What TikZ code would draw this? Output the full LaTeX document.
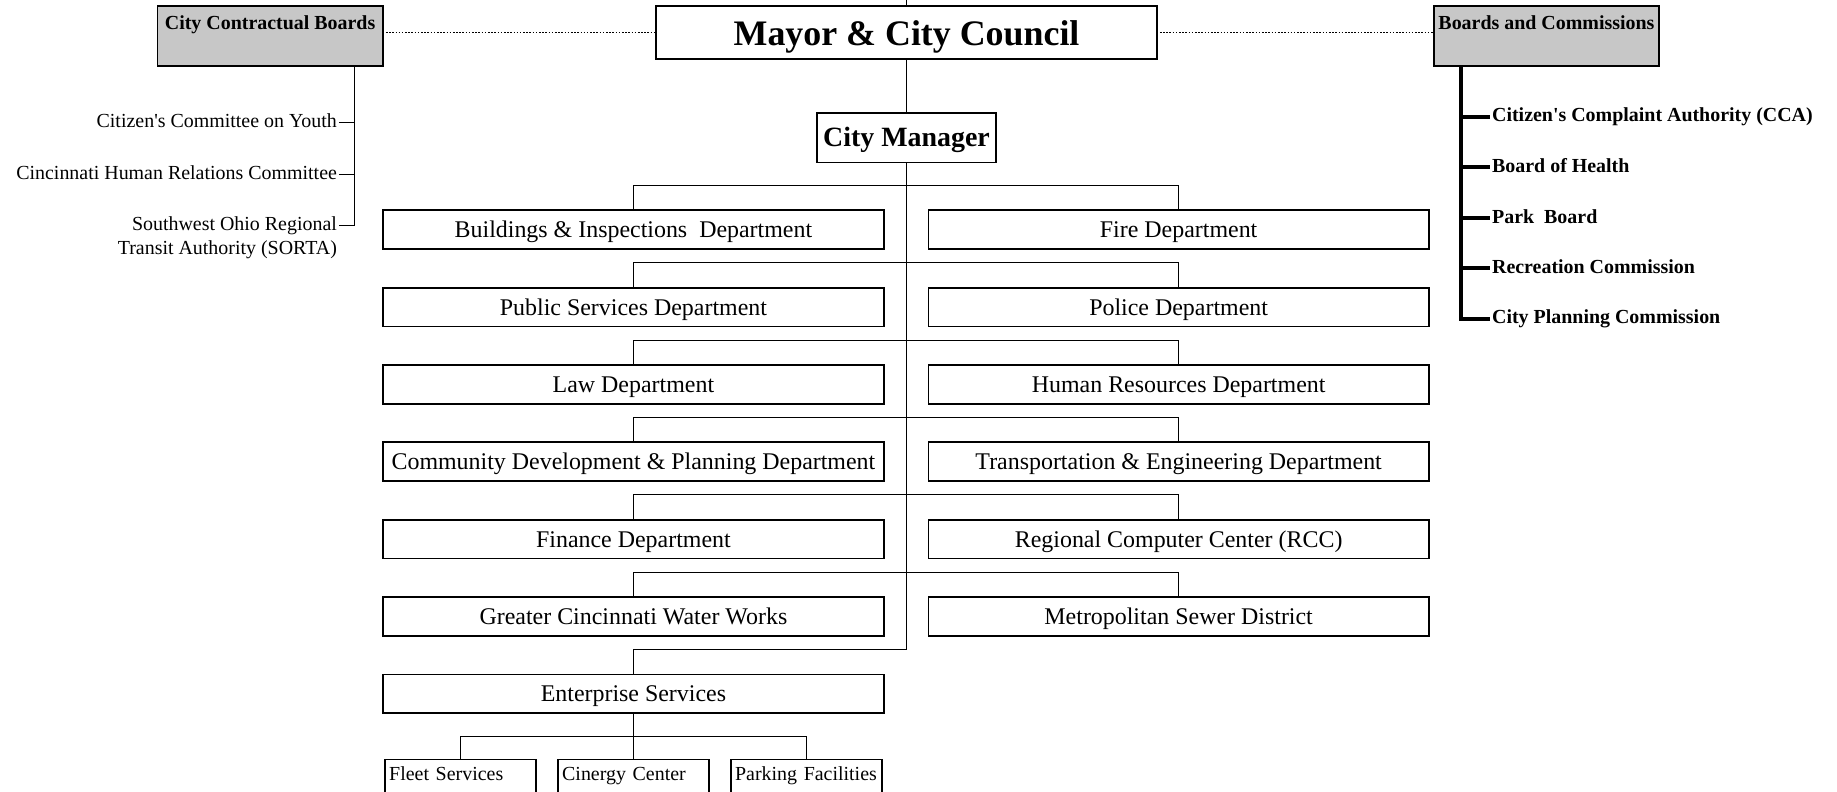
\documentclass[tikz,border=0pt]{standalone}
\usepackage{fontspec}
\setmainfont{Liberation Serif}
\usetikzlibrary{positioning}
\tikzstyle{box}=[draw, line width=0.9pt, inner sep=0, outer sep=0]
\tikzstyle{dept}=[box, minimum width=251pt, minimum height=19.5pt, text height=9.5pt, text depth=1.5pt, font=\fontsize{12}{14}\selectfont]
\tikzstyle{subunit}=[box, anchor=north, text width=71.5pt, align=left, inner xsep=2pt, inner ysep=2.5pt,
                     text height=8pt, text depth=30pt, font=\fontsize{10}{12}\selectfont]
\tikzstyle{board}=[box, fill=black!22, minimum width=113pt, inner xsep=1pt, inner ysep=2.5pt,
                   text height=9.5pt, text depth=15.5pt, font=\bfseries\fontsize{10}{12}\selectfont]
\tikzstyle{member}=[inner sep=1pt, outer sep=0, text height=7.5pt, text depth=2.5pt, font=\fontsize{10}{12}\selectfont]
\tikzstyle{link}=[line width=0.6pt]
\tikzstyle{heavylink}=[line width=2pt]
\tikzstyle{loose}=[line width=0.6pt, dash pattern=on 0.8pt off 0.8pt]

\begin{document}
\begin{tikzpicture}[x=0.5pt, y=-0.5pt]
    \clip (0,0) rectangle (1843,794);
    % top of the chart
    \node[box, minimum width=251pt, minimum height=26.5pt, text height=13.5pt, text depth=0.3pt, font=\bfseries\fontsize{18}{21}\selectfont] (council) at (909.5, 32.5) {Mayor \& City Council};
    \node[box, minimum width=89.5pt, minimum height=25pt, text height=10pt, text depth=1.4pt, font=\bfseries\fontsize{14}{16}\selectfont] (manager) at (909.5, 138) {City Manager};
    \node[board] (contract) at (271, 36) {City Contractual Boards};
    \node[board] (commissions) at (1551.5, 36) {Boards and Commissions};
    \coordinate (top) at (909.5, 0);

    % departments
    \node[dept] (buildings) at (635.5, 230.5) {Buildings \& Inspections~ Department};
    \node[dept] (fire) at (1182.5, 230.5) {Fire Department};
    \node[dept] (publicserv) at (635.5, 308.1) {Public Services Department};
    \node[dept] (police) at (1182.5, 308.1) {Police Department};
    \node[dept] (law) at (635.5, 385.7) {Law Department};
    \node[dept] (hr) at (1182.5, 385.7) {Human Resources Department};
    \node[dept] (planning) at (635.5, 463.3) {Community Development \& Planning Department};
    \node[dept] (transport) at (1182.5, 463.3) {Transportation \& Engineering Department};
    \node[dept] (finance) at (635.5, 540.9) {Finance Department};
    \node[dept] (rcc) at (1182.5, 540.9) {Regional Computer Center (RCC)};
    \node[dept] (water) at (635.5, 618.5) {Greater Cincinnati Water Works};
    \node[dept] (sewer) at (1182.5, 618.5) {Metropolitan Sewer District};
    \node[dept] (enterprise) at (635.5, 696.1) {Enterprise Services};

    \node[subunit] (fleet) at (462, 762) {Fleet Services};
    \node[subunit] (cinergy) at (635.5, 762) {Cinergy Center};
    \node[subunit] (parking) at (809, 762) {Parking Facilities};

    % contractual boards
    \node[member, anchor=east] (youth) at (340, 123) {Citizen\textquotesingle s Committee on Youth};
    \node[member, anchor=east] (human) at (340, 175) {Cincinnati Human Relations Committee};
    \node[member, anchor=east] (sorta) at (340, 226) {Southwest Ohio Regional};
    \node[member, anchor=north east] (sortab) at (sorta.south east) {Transit Authority (SORTA)};
    \coordinate (leftfoot) at (356, 226);

    % boards and commissions
    \node[member, anchor=west, font=\bfseries\fontsize{10}{12}\selectfont] (cca) at (1495, 117) {Citizen\textquotesingle s Complaint Authority (CCA)};
    \node[member, anchor=west, font=\bfseries\fontsize{10}{12}\selectfont] (health) at (1495, 168) {Board of Health};
    \node[member, anchor=west, font=\bfseries\fontsize{10}{12}\selectfont] (park) at (1495, 219) {Park~ Board};
    \node[member, anchor=west, font=\bfseries\fontsize{10}{12}\selectfont] (recreation) at (1495, 269) {Recreation Commission};
    \node[member, anchor=west, font=\bfseries\fontsize{10}{12}\selectfont] (cityplan) at (1495, 320) {City Planning Commission};
    \coordinate (rightfoot) at (1466, 320);

    \draw[link] (council.north) -- (top);
    \draw[link] (council.south) -- (manager.north);
    \draw[loose] (contract.east |- council.west) -- (council.west);
    \draw[loose] (council.east) -- (council.east -| commissions.west);
    \draw[link] (manager.south) |- ([yshift=12.5pt]enterprise.north) -- (enterprise.north);

    \draw[link] (buildings.north) -- ++(0,-25) -| (fire.north);
    \draw[link] (publicserv.north) -- ++(0,-25) -| (police.north);
    \draw[link] (law.north) -- ++(0,-25) -| (hr.north);
    \draw[link] (planning.north) -- ++(0,-25) -| (transport.north);
    \draw[link] (finance.north) -- ++(0,-25) -| (rcc.north);
    \draw[link] (water.north) -- ++(0,-25) -| (sewer.north);

    \draw[link] (enterprise.south) -- (cinergy.north);
    \draw[link] (fleet.north) |- ([yshift=-11.5pt]enterprise.south) -| (parking.north);

    \draw[link] (contract.south -| leftfoot) -- (leftfoot) -- (sorta.east);
    \draw[link] (youth.east) -- (youth.east -| leftfoot);
    \draw[link] (human.east) -- (human.east -| leftfoot);

    \draw[heavylink] (commissions.south -| rightfoot) -- (rightfoot) -- (cityplan.west);
    \draw[heavylink] (cca.west -| rightfoot) -- (cca.west);
    \draw[heavylink] (health.west -| rightfoot) -- (health.west);
    \draw[heavylink] (park.west -| rightfoot) -- (park.west);
    \draw[heavylink] (recreation.west -| rightfoot) -- (recreation.west);
\end{tikzpicture}
\end{document}
